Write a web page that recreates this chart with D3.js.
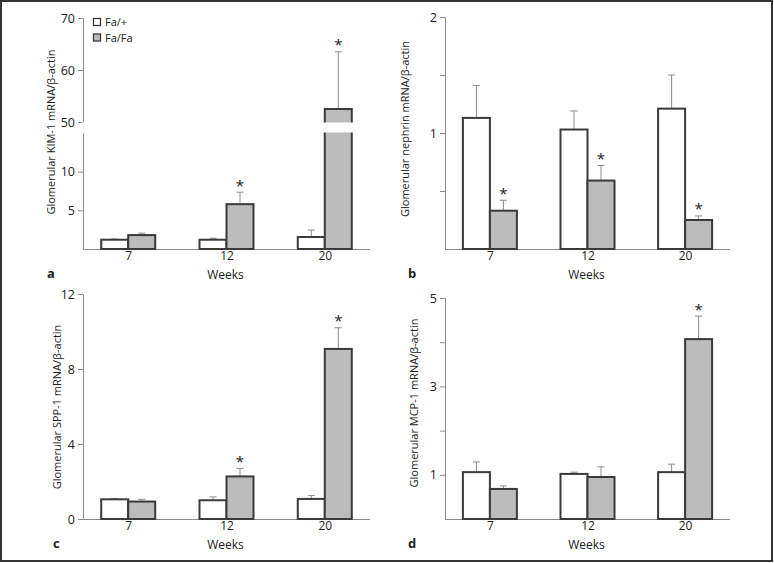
<!DOCTYPE html>
<html><head><meta charset="utf-8">
<script src="https://cdn.jsdelivr.net/npm/d3@7"></script>
<style>
html,body{margin:0;padding:0;background:#fff;}
svg{display:block;}
text{font-family:"Open Sans","Noto Sans",sans-serif;fill:#222;}
</style></head>
<body>
<svg id="chart" width="774" height="563"></svg>
<script>
// ---------- data ----------
const weeks = ["7", "12", "20"];
const seriesNames = ["Fa/+", "Fa/Fa"];

const kimFaPlus = [1.2, 1.2, 1.55];
const kimFaPlusSem = [0.1, 0.2, 0.9];
const kimFaFa = [1.8, 5.8, 52.5];
const kimFaFaSem = [0.25, 1.55, 11];
const kimStars = [false, true, true];

const nephrinFaPlus = [1.13, 1.03, 1.21];
const nephrinFaPlusSem = [0.28, 0.16, 0.29];
const nephrinFaFa = [0.33, 0.59, 0.25];
const nephrinFaFaSem = [0.09, 0.13, 0.035];
const nephrinStars = [true, true, true];

const sppFaPlus = [1.05, 1.0, 1.07];
const sppFaPlusSem = [0.05, 0.18, 0.18];
const sppFaFa = [0.93, 2.27, 9.07];
const sppFaFaSem = [0.12, 0.43, 1.13];
const sppStars = [false, true, true];

const mcpFaPlus = [1.06, 1.02, 1.06];
const mcpFaPlusSem = [0.23, 0.04, 0.18];
const mcpFaFa = [0.68, 0.95, 4.07];
const mcpFaFaSem = [0.07, 0.23, 0.52];
const mcpStars = [false, false, true];

const kimTicksLow = [5, 10];
const kimTicksHigh = [50, 60, 70];
const kimTickLabels = ["5", "10", "50", "60", "70"];
const nephrinTicks = [0.5, 1, 1.5, 2];
const nephrinTickLabels = {1: "1", 2: "2"};
const sppTicks = [0, 4, 8, 12];
const mcpTicks = [1, 2, 3, 4, 5];
const mcpTickLabels = {1: "1", 3: "3", 5: "5"};

// ---------- drawing ----------
const svg = d3.select("#chart");
svg.append("rect").attr("x", 1).attr("y", 1).attr("width", 771).attr("height", 560)
  .attr("fill", "#fff").attr("stroke", "#333").attr("stroke-width", 2);

const BAR_W = 27;
const AXIS_COL = "#8c8c8c";
const BAR_STROKE = "#3a3a3a";
const GREY = "#bcbcbc";
const ERR_COL = "#8c8c8c";
const FONT = '"Open Sans","Noto Sans",sans-serif';

function drawPanel(p) {
  const g = svg.append("g");
  const x = d3.scalePoint().domain(weeks).range([p.x0, p.x1]).padding(0.46);
  const y = p.y;

  // y axis(es)
  p.axes.forEach(ax => {
    const a = d3.axisLeft(ax.scale).tickValues(ax.ticks).tickSize(5).tickSizeOuter(0)
      .tickPadding(3).tickFormat(ax.fmt);
    const ag = g.append("g").attr("transform", `translate(${p.x0},0)`).call(a);
    ag.select(".domain").attr("stroke", AXIS_COL);
    ag.selectAll(".tick line").attr("stroke", AXIS_COL);
    ag.selectAll(".tick text").attr("font-size", 12.5).attr("fill", "#333")
      .style("font-family", FONT);
  });

  // x axis
  const xa = d3.axisBottom(x).tickSize(0).tickSizeOuter(0).tickPadding(2);
  const xg = g.append("g").attr("transform", `translate(0,${p.base})`).call(xa);
  xg.select(".domain").attr("stroke", AXIS_COL).attr("d", `M${p.x0},0.5H${p.x1}`);
  xg.selectAll(".tick text").attr("font-size", 12).attr("fill", "#333")
    .style("font-family", FONT);

  const groups = [
    {vals: p.faPlus, sem: p.faPlusSem, fill: "#fff", off: -BAR_W},
    {vals: p.faFa, sem: p.faFaSem, fill: GREY, off: 0}
  ];
  groups.forEach((s, si) => {
    weeks.forEach((w, i) => {
      const cx = x(w) + s.off;
      const top = y(s.vals[i]);
      const et = y(s.vals[i] + s.sem[i]);
      const mid = cx + BAR_W / 2;
      // error bar
      g.append("line").attr("x1", mid).attr("x2", mid).attr("y1", top).attr("y2", et)
        .attr("stroke", ERR_COL).attr("stroke-width", 1);
      g.append("line").attr("x1", mid - 3.5).attr("x2", mid + 3.5).attr("y1", et).attr("y2", et)
        .attr("stroke", ERR_COL).attr("stroke-width", 1);
      g.append("rect").attr("x", cx).attr("y", top).attr("width", BAR_W)
        .attr("height", p.base - top).attr("fill", s.fill)
        .attr("stroke", BAR_STROKE).attr("stroke-width", 2);
      if (si === 1 && p.stars[i]) {
        g.append("text").attr("x", mid).attr("y", et - 1.5).attr("text-anchor", "middle")
          .attr("font-size", 15).attr("fill", "#333").text("*");
      }
    });
  });

  if (p.gap) {
    // break in the axis and tall bar
    g.append("rect").attr("x", p.x0 - 2).attr("y", p.gap[0] + 0.5).attr("width", p.x1 - p.x0 + 4)
      .attr("height", p.gap[1] - p.gap[0] - 1).attr("fill", "#fff");
  }

  // y title
  g.append("text")
    .attr("transform", `translate(${p.titleX},${p.titleY}) rotate(-90)`)
    .attr("text-anchor", "middle").attr("font-size", 11).attr("fill", "#333")
    .text(p.title);
  // x title
  g.append("text").attr("x", (p.x0 + p.x1) / 2 - 1).attr("y", p.base + 30)
    .attr("text-anchor", "middle").attr("font-size", 12).attr("fill", "#333").text("Weeks");
  // panel letter
  g.append("text").attr("x", p.letterX).attr("y", p.base + 29).attr("font-size", 13)
    .attr("font-weight", "bold").attr("fill", "#222").text(p.letter);
}

// panel a: broken axis
const aLow = d3.scaleLinear().domain([0, 15]).range([249, 133]);
const aHigh = d3.scaleLinear().domain([50, 70]).range([122, 18]);
const aY = v => v <= 15 ? aLow(v) : aHigh(v);
drawPanel({
  x0: 83, x1: 370, base: 249, y: aY,
  axes: [
    {scale: aLow, ticks: kimTicksLow, fmt: d => kimTickLabels[kimTicksLow.indexOf(d)]},
    {scale: aHigh, ticks: kimTicksHigh, fmt: d => kimTickLabels[2 + kimTicksHigh.indexOf(d)]}
  ],
  gap: [aHigh(50), aLow(15)],
  faPlus: kimFaPlus, faPlusSem: kimFaPlusSem, faFa: kimFaFa, faFaSem: kimFaFaSem, stars: kimStars,
  title: "Glomerular KIM-1 mRNA/β-actin", titleX: 55, titleY: 132, letter: "a", letterX: 47
});

const bY = d3.scaleLinear().domain([0, 2]).range([249, 17]);
drawPanel({
  x0: 445, x1: 730, base: 249, y: bY,
  axes: [{scale: bY, ticks: nephrinTicks, fmt: d => nephrinTickLabels[d] || ""}],
  faPlus: nephrinFaPlus, faPlusSem: nephrinFaPlusSem, faFa: nephrinFaFa, faFaSem: nephrinFaFaSem, stars: nephrinStars,
  title: "Glomerular nephrin mRNA/β-actin", titleX: 409, titleY: 129, letter: "b", letterX: 408
});

const cY = d3.scaleLinear().domain([0, 12]).range([519, 294]);
drawPanel({
  x0: 83, x1: 370, base: 519, y: cY,
  axes: [{scale: cY, ticks: sppTicks, fmt: d3.format("d")}],
  faPlus: sppFaPlus, faPlusSem: sppFaPlusSem, faFa: sppFaFa, faFaSem: sppFaFaSem, stars: sppStars,
  title: "Glomerular SPP-1 mRNA/β-actin", titleX: 61, titleY: 407, letter: "c", letterX: 53
});

const dY = d3.scaleLinear().domain([0, 5]).range([519, 298]);
drawPanel({
  x0: 445, x1: 730, base: 519, y: dY,
  axes: [{scale: dY, ticks: mcpTicks, fmt: d => mcpTickLabels[d] || ""}],
  faPlus: mcpFaPlus, faPlusSem: mcpFaPlusSem, faFa: mcpFaFa, faFaSem: mcpFaFaSem, stars: mcpStars,
  title: "Glomerular MCP-1 mRNA/β-actin", titleX: 418, titleY: 403, letter: "d", letterX: 408
});

// legend
const leg = svg.append("g");
seriesNames.forEach((n, i) => {
  leg.append("rect").attr("x", 93.5).attr("y", 18.5 + i * 15.5).attr("width", 7).attr("height", 7)
    .attr("fill", i === 0 ? "#fff" : GREY).attr("stroke", BAR_STROKE).attr("stroke-width", 1.3);
  leg.append("text").attr("x", 105).attr("y", 26 + i * 15.5).attr("font-size", 11)
    .attr("fill", "#333").text(n);
});
</script>
</body></html>
